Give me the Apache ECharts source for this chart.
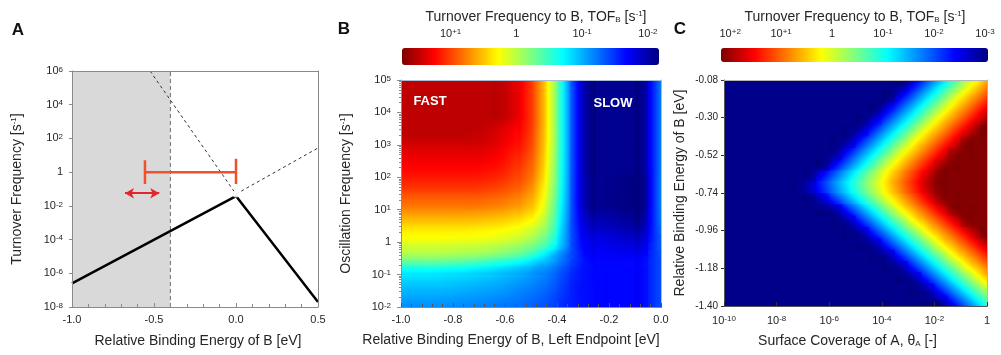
<!DOCTYPE html>
<html>
<head>
<meta charset="utf-8">
<script src="https://cdn.jsdelivr.net/npm/echarts@6/dist/echarts.min.js"></script>
<style>
html, body { margin: 0; padding: 0; background: #fff; }
#main { width: 1001px; height: 355px; }
</style>
</head>
<body>
<div id="main"></div>
<script>
// ---------- Panel A: TOF vs binding energy of B ----------
const aLineX = [-1.0, 0.0, 0.5];
const aLineY = [2.5e-7, 0.038, 2e-8];
const aSteepX = [-0.524, 0.0];
const aSteepY = [1e6, 0.05];
const aFlatX = [0.0, 0.5];
const aFlatY = [0.05, 27];
const aShadeX = [-1.0, -0.4];
const aBarX = [-0.555, 0.0];      // red range bar, drawn at TOF = 1
const aBarY = 1;
const aArrowX = [-0.677, -0.468];
const aArrowY = 0.056;

// ---------- Panel B: log10(TOF) on (left endpoint, log10 oscillation freq) ----------
const bCols = [-0.975,-0.925,-0.875,-0.825,-0.775,-0.725,-0.675,-0.625,-0.575,-0.525,-0.475,-0.425,-0.375,-0.325,-0.275,-0.225,-0.175,-0.125,-0.075,-0.025];
const bRows = [4.875,4.625,4.375,4.125,3.875,3.625,3.375,3.125,2.875,2.625,2.375,2.125,1.875,1.625,1.375,1.125,0.875,0.625,0.375,0.125,-0.125,-0.375,-0.625,-0.875,-1.125,-1.375,-1.625,-1.875];
const bLogTof = [
  [1.5,1.5,1.5,1.5,1.5,1.5,1.5,1.5,1.4,1.2,0.8,0.15,-0.75,-1.6,-2.1,-2.1,-2.1,-2.1,-2.1,-1.5],
  [1.5,1.5,1.5,1.5,1.5,1.5,1.5,1.5,1.4,1.2,0.8,0.15,-0.75,-1.6,-2.1,-2.1,-2.1,-2.1,-2.1,-1.5],
  [1.5,1.5,1.5,1.5,1.5,1.5,1.5,1.5,1.4,1.2,0.8,0.15,-0.75,-1.6,-2.1,-2.1,-2.1,-2.1,-2.1,-1.5],
  [1.5,1.5,1.5,1.5,1.5,1.5,1.5,1.5,1.4,1.2,0.8,0.15,-0.75,-1.6,-2.1,-2.1,-2.1,-2.1,-2.1,-1.5],
  [1.5,1.5,1.5,1.5,1.5,1.5,1.5,1.5,1.4,1.2,0.8,0.15,-0.75,-1.6,-2.1,-2.1,-2.1,-2.1,-2.1,-1.5],
  [1.5,1.5,1.5,1.5,1.5,1.5,1.48,1.43,1.33,1.18,0.8,0.15,-0.75,-1.6,-2.1,-2.1,-2.1,-2.1,-2.1,-1.5],
  [1.5,1.5,1.5,1.5,1.5,1.48,1.45,1.38,1.28,1.15,0.78,0.15,-0.75,-1.6,-2.1,-2.1,-2.1,-2.1,-2.1,-1.5],
  [1.45,1.45,1.45,1.45,1.45,1.45,1.42,1.35,1.25,1.12,0.76,0.14,-0.75,-1.6,-2.1,-2.1,-2.1,-2.1,-2.1,-1.5],
  [1.38,1.38,1.38,1.38,1.38,1.38,1.36,1.3,1.2,1.08,0.74,0.12,-0.75,-1.6,-2.1,-2.1,-2.1,-2.1,-2.1,-1.5],
  [1.32,1.32,1.32,1.32,1.32,1.32,1.3,1.25,1.15,1.03,0.71,0.1,-0.76,-1.6,-2.1,-2.1,-2.1,-2.1,-2.1,-1.5],
  [1.26,1.26,1.26,1.26,1.26,1.26,1.24,1.2,1.1,0.98,0.68,0.08,-0.76,-1.6,-2.1,-2.1,-2.1,-2.1,-2.1,-1.5],
  [1.2,1.2,1.2,1.2,1.2,1.2,1.18,1.14,1.05,0.93,0.64,0.05,-0.77,-1.6,-2.1,-2.1,-2.1,-2.12,-2.12,-1.5],
  [1.12,1.12,1.12,1.12,1.12,1.12,1.1,1.06,0.98,0.87,0.58,0.02,-0.78,-1.6,-2.07,-2.1,-2.12,-2.15,-2.15,-1.5],
  [1.03,1.03,1.03,1.03,1.03,1.03,1.01,0.97,0.9,0.79,0.52,-0.02,-0.8,-1.6,-2.07,-2.1,-2.12,-2.15,-2.15,-1.5],
  [0.9,0.9,0.9,0.9,0.9,0.9,0.88,0.85,0.79,0.69,0.45,-0.07,-0.82,-1.6,-2.07,-2.1,-2.12,-2.15,-2.15,-1.5],
  [0.8,0.8,0.8,0.8,0.8,0.8,0.78,0.75,0.69,0.6,0.38,-0.12,-0.85,-1.6,-2.07,-2.1,-2.12,-2.15,-2.15,-1.5],
  [0.65,0.65,0.65,0.65,0.65,0.64,0.62,0.59,0.54,0.46,0.27,-0.18,-0.88,-1.58,-2.0,-2.03,-2.06,-2.1,-2.1,-1.5],
  [0.5,0.5,0.5,0.5,0.5,0.49,0.47,0.44,0.39,0.31,0.14,-0.25,-0.92,-1.57,-1.93,-1.97,-2.0,-2.05,-2.05,-1.5],
  [0.35,0.35,0.35,0.35,0.35,0.34,0.32,0.29,0.24,0.16,0.0,-0.33,-0.96,-1.55,-1.85,-1.88,-1.92,-1.97,-1.97,-1.5],
  [0.25,0.25,0.25,0.25,0.24,0.23,0.21,0.17,0.11,0.02,-0.15,-0.45,-1.0,-1.53,-1.78,-1.8,-1.83,-1.88,-1.88,-1.5],
  [0.1,0.1,0.1,0.09,0.08,0.06,0.03,-0.01,-0.08,-0.17,-0.33,-0.6,-1.05,-1.52,-1.73,-1.75,-1.77,-1.8,-1.8,-1.48],
  [-0.05,-0.05,-0.05,-0.06,-0.08,-0.11,-0.15,-0.21,-0.29,-0.4,-0.6,-0.88,-1.2,-1.5,-1.7,-1.7,-1.72,-1.73,-1.72,-1.48],
  [-0.35,-0.35,-0.35,-0.37,-0.4,-0.44,-0.5,-0.57,-0.65,-0.75,-0.9,-1.05,-1.28,-1.52,-1.65,-1.67,-1.67,-1.67,-1.67,-1.48],
  [-0.7,-0.7,-0.7,-0.72,-0.74,-0.78,-0.82,-0.87,-0.93,-1.0,-1.1,-1.2,-1.38,-1.56,-1.65,-1.67,-1.67,-1.67,-1.67,-1.48],
  [-0.84,-0.84,-0.84,-0.86,-0.88,-0.9,-0.93,-0.97,-1.02,-1.08,-1.16,-1.26,-1.43,-1.58,-1.65,-1.67,-1.67,-1.67,-1.67,-1.48],
  [-0.94,-0.94,-0.94,-0.95,-0.97,-0.99,-1.02,-1.05,-1.1,-1.15,-1.22,-1.31,-1.46,-1.6,-1.65,-1.67,-1.67,-1.67,-1.67,-1.48],
  [-1.02,-1.02,-1.02,-1.03,-1.05,-1.07,-1.09,-1.12,-1.16,-1.21,-1.27,-1.36,-1.49,-1.6,-1.65,-1.67,-1.67,-1.67,-1.67,-1.48],
  [-1.1,-1.1,-1.1,-1.11,-1.12,-1.14,-1.16,-1.19,-1.22,-1.26,-1.32,-1.4,-1.52,-1.6,-1.65,-1.67,-1.67,-1.67,-1.67,-1.48]
];
const bRange = [-2.17, 1.74];          // log10 TOF at colorbar ends
const bBarTicks = [1, 0, -1, -2];

// ---------- Panel C: log10(TOF) on (log10 coverage of A, binding energy of B) ----------
const cCols = [-9.75,-9.25,-8.75,-8.25,-7.75,-7.25,-6.75,-6.25,-5.75,-5.25,-4.75,-4.25,-3.75,-3.25,-2.75,-2.25,-1.75,-1.25,-0.75,-0.25];
const cRows = [-0.113,-0.179,-0.245,-0.311,-0.377,-0.443,-0.509,-0.575,-0.641,-0.707,-0.773,-0.839,-0.905,-0.971,-1.037,-1.103,-1.169,-1.235,-1.301,-1.367];
const cLogTof = [
  [-3,-3,-3,-3,-3,-3,-3,-3,-3,-3,-3,-3,-3,-2.93,-2.34,-1.74,-1.15,-0.55,0.04,0.55],
  [-3,-3,-3,-3,-3,-3,-3,-3,-3,-3,-3,-3,-3,-2.42,-1.83,-1.23,-0.64,-0.04,0.49,0.96],
  [-3,-3,-3,-3,-3,-3,-3,-3,-3,-3,-3,-3,-2.51,-1.91,-1.32,-0.72,-0.13,0.42,0.89,1.37],
  [-3,-3,-3,-3,-3,-3,-3,-3,-3,-3,-3,-2.6,-2.0,-1.41,-0.82,-0.22,0.34,0.82,1.29,1.77],
  [-3,-3,-3,-3,-3,-3,-3,-3,-3,-3,-2.68,-2.09,-1.49,-0.9,-0.3,0.28,0.75,1.23,1.7,2.15],
  [-3,-3,-3,-3,-3,-3,-3,-3,-3,-2.77,-2.17,-1.58,-0.98,-0.39,0.21,0.69,1.16,1.64,2.11,2.15],
  [-3,-3,-3,-3,-3,-3,-3,-3,-2.86,-2.27,-1.67,-1.08,-0.48,0.11,0.61,1.08,1.56,2.03,2.15,2.15],
  [-3,-3,-3,-3,-3,-3,-3,-2.98,-2.39,-1.79,-1.2,-0.6,-0.01,0.51,0.99,1.46,1.94,2.15,2.15,2.15],
  [-3,-3,-3,-3,-3,-3,-2.94,-2.39,-1.84,-1.29,-0.74,-0.19,0.34,0.82,1.29,1.77,2.15,2.15,2.15,2.15],
  [-3,-3,-3,-3,-3,-3,-2.73,-2.21,-1.68,-1.16,-0.63,-0.11,0.4,0.88,1.35,1.83,2.15,2.15,2.15,2.15],
  [-3,-3,-3,-3,-3,-3,-3,-2.63,-2.08,-1.53,-0.98,-0.43,0.12,0.61,1.08,1.56,2.03,2.15,2.15,2.15],
  [-3,-3,-3,-3,-3,-3,-3,-3,-2.79,-2.2,-1.6,-1.01,-0.41,0.18,0.67,1.14,1.62,2.09,2.15,2.15],
  [-3,-3,-3,-3,-3,-3,-3,-3,-3,-2.78,-2.18,-1.59,-0.99,-0.4,0.2,0.68,1.15,1.63,2.1,2.15],
  [-3,-3,-3,-3,-3,-3,-3,-3,-3,-3,-2.78,-2.18,-1.59,-0.99,-0.4,0.2,0.68,1.15,1.63,2.1],
  [-3,-3,-3,-3,-3,-3,-3,-3,-3,-3,-3,-2.77,-2.17,-1.58,-0.98,-0.39,0.21,0.69,1.16,1.64],
  [-3,-3,-3,-3,-3,-3,-3,-3,-3,-3,-3,-3,-2.77,-2.17,-1.58,-0.98,-0.39,0.21,0.69,1.16],
  [-3,-3,-3,-3,-3,-3,-3,-3,-3,-3,-3,-3,-3,-2.77,-2.17,-1.58,-0.98,-0.39,0.21,0.69],
  [-3,-3,-3,-3,-3,-3,-3,-3,-3,-3,-3,-3,-3,-3,-2.77,-2.17,-1.58,-0.98,-0.39,0.21],
  [-3,-3,-3,-3,-3,-3,-3,-3,-3,-3,-3,-3,-3,-3,-3,-2.77,-2.17,-1.58,-0.98,-0.39],
  [-3,-3,-3,-3,-3,-3,-3,-3,-3,-3,-3,-3,-3,-3,-3,-3,-2.77,-2.17,-1.58,-0.98]
];
const cRange = [-3.06, 2.18];
const cBarTicks = [2, 1, 0, -1, -2, -3];
const cEnergyTicks = [-1.40, -1.18, -0.96, -0.74, -0.52, -0.30, -0.08];

// ---------- styling ----------
const FONT = "'Liberation Sans', Arial, Helvetica, sans-serif";
const TXT = '#262626';
const AXIS = '#8a8a8a';
const JET = ['#00007f','#0000ff','#007fff','#00ffff','#7fff7f','#ffff00','#ff7f00','#ff0000','#7f0000'];
const JET_RGB = JET.map(h => [1, 3, 5].map(k => parseInt(h.slice(k, k + 2), 16)));
const NO_SPLIT = { show: false, lineStyle: { opacity: 0 } };
const rich = {
  sup: { fontSize: 8, fontFamily: FONT, color: TXT, verticalAlign: 'top', lineHeight: 9 },
  sub: { fontSize: 8, fontFamily: FONT, color: TXT, verticalAlign: 'bottom', lineHeight: 9 }
};

// log-decade minor tick positions for panel B's frequency axis
const bMinorTicks = [];
for (let n = -2; n < 5; n++) for (let k = 2; k < 10; k++) bMinorTicks.push(n + Math.log10(k));

function pow10(v, plus) {
  const n = Math.round(v);
  if (n === 0) return '1';
  return '10{sup|' + (n > 0 && plus ? '+' : '') + n + '}';
}
function labelStyle(size, margin, formatter) {
  return { fontSize: size, color: TXT, fontFamily: FONT, margin: margin, formatter: formatter, rich: rich };
}
function nameStyle(shiftLeft) {
  return { fontSize: 14, color: TXT, fontFamily: FONT, rich: rich, padding: [0, 2 * (shiftLeft || 0), 0, 0] };
}
function toPairs(xs, ys) {
  return xs.map((x, i) => [x, Math.log10(ys[i])]);
}
function heatData(table) {
  const out = [];
  table.forEach((row, i) => row.forEach((v, j) => out.push([j, i, v])));
  return out;
}

// jet colour for a log10 value within a colorbar range
function jetColor(v, range) {
  let t = (v - range[0]) / (range[1] - range[0]);
  t = Math.min(1, Math.max(0, t)) * (JET_RGB.length - 1);
  const k = Math.min(Math.floor(t), JET_RGB.length - 2);
  const f = t - k;
  const a = JET_RGB[k], b = JET_RGB[k + 1];
  return 'rgb(' + [0, 1, 2].map(m => Math.round(a[m] + (b[m] - a[m]) * f)).join(',') + ')';
}

// each cell painted with a gradient along the local slope (like "shading interp")
function smoothCells(table, range) {
  const nr = table.length, nc = table[0].length;
  return function (params, api) {
    const j = api.value(0), i = api.value(1), v = api.value(2);
    const c = api.coord([j, i]);
    const s = api.size([1, 1]);
    const w = s[0], h = s[1];
    const jl = Math.max(j - 1, 0), jr = Math.min(j + 1, nc - 1);
    const iu = Math.max(i - 1, 0), id = Math.min(i + 1, nr - 1);
    const gx = (table[i][jr] - table[i][jl]) / (jr - jl) / w;
    const gy = (table[id][j] - table[iu][j]) / (id - iu) / h;
    const g = Math.hypot(gx, gy);
    let fill = jetColor(v, range);
    if (g > 1e-6) {
      const ux = gx / g, uy = gy / g;
      const t = 0.5 * (w * Math.abs(ux) + h * Math.abs(uy));
      const stops = [];
      for (let k = 0; k <= 6; k++) {
        const f = k / 6;
        stops.push({ offset: f, color: jetColor(v + g * t * (2 * f - 1), range) });
      }
      fill = new echarts.graphic.LinearGradient(c[0] - ux * t, c[1] - uy * t, c[0] + ux * t, c[1] + uy * t, stops, true);
    }
    return {
      type: 'rect',
      shape: { x: c[0] - w / 2, y: c[1] - h / 2, width: w + 1, height: h + 1 },
      style: { fill: fill, stroke: null }
    };
  };
}

const chart = echarts.init(document.getElementById('main'));
const capHalf = 0.7; // decades, half-height of range-bar end caps

const option = {
  animation: false,
  grid: [
    { left: 72, top: 71, width: 246, height: 236 },          // 0 A
    { left: 401, top: 80, width: 260, height: 227 },         // 1 B cells
    { left: 401, top: 80, width: 260, height: 227 },         // 2 B axes
    { left: 724, top: 80, width: 263, height: 226 },         // 3 C cells
    { left: 724, top: 80, width: 263, height: 226 },         // 4 C axes
    { left: 402, top: 48, width: 257, height: 17 },          // 5 B colorbar scale
    { left: 721, top: 48, width: 267, height: 14 }           // 6 C colorbar scale
  ],
  xAxis: [
    { gridIndex: 0, type: 'value', min: -1, max: 0.5, interval: 0.5, z: 5,
      axisLine: { show: true, onZero: false, lineStyle: { color: AXIS } },
      axisTick: { show: true, inside: true, length: 4, lineStyle: { color: AXIS } },
      minorTick: { show: true, splitNumber: 5, length: 3, lineStyle: { color: AXIS } },
      splitLine: NO_SPLIT, minorSplitLine: NO_SPLIT,
      axisLabel: labelStyle(11, 7, v => v.toFixed(1)),
      name: 'Relative Binding Energy of B [eV]', nameLocation: 'middle', nameGap: 27, nameTextStyle: nameStyle(-3) },
    { gridIndex: 1, type: 'category', data: bCols.map(String), show: false },
    { gridIndex: 2, type: 'value', min: -1, max: 0, interval: 0.2, z: 5,
      axisLine: { show: true, onZero: false, lineStyle: { color: AXIS } },
      axisTick: { show: true, inside: true, length: 4, lineStyle: { color: '#555' } },
      minorTick: { show: true, splitNumber: 5, length: 3, lineStyle: { color: '#555' } },
      splitLine: NO_SPLIT, minorSplitLine: NO_SPLIT,
      axisLabel: labelStyle(11, 7, v => v.toFixed(1)),
      name: 'Relative Binding Energy of B, Left Endpoint [eV]', nameLocation: 'middle', nameGap: 26, nameTextStyle: nameStyle(20) },
    { gridIndex: 3, type: 'category', data: cCols.map(String), show: false },
    { gridIndex: 4, type: 'value', min: -10, max: 0, interval: 2, z: 5,
      axisLine: { show: true, onZero: false, lineStyle: { color: '#555' } },
      axisTick: { show: true, inside: true, length: 4, lineStyle: { color: '#333' } },
      splitLine: NO_SPLIT, minorSplitLine: NO_SPLIT,
      axisLabel: labelStyle(11, 9, v => pow10(v)),
      name: 'Surface Coverage of A, θ{sub|A} [-]', nameLocation: 'middle', nameGap: 28, nameTextStyle: nameStyle(8) },
    { gridIndex: 5, type: 'value', min: bRange[0], max: bRange[1], inverse: true, position: 'top',
      axisLine: { show: false, onZero: false }, axisTick: { show: false }, splitLine: NO_SPLIT,
      axisLabel: Object.assign(labelStyle(11, 9, v => pow10(v, true)), { customValues: bBarTicks }) },
    { gridIndex: 6, type: 'value', min: cRange[0], max: cRange[1], inverse: true, position: 'top',
      axisLine: { show: false, onZero: false }, axisTick: { show: false }, splitLine: NO_SPLIT,
      axisLabel: Object.assign(labelStyle(11, 9, v => pow10(v, true)), { customValues: cBarTicks }) },
    { gridIndex: 0, type: 'value', min: -1, max: 0.5, position: 'top', z: 5,
      axisLine: { show: true, onZero: false, lineStyle: { color: AXIS } }, axisTick: { show: false },
      axisLabel: { show: false }, splitLine: NO_SPLIT },
    { gridIndex: 2, type: 'value', min: -1, max: 0, position: 'top', z: 5,
      axisLine: { show: true, onZero: false, lineStyle: { color: '#a9bcd6' } }, axisTick: { show: false },
      axisLabel: { show: false }, splitLine: NO_SPLIT },
    { gridIndex: 4, type: 'value', min: -10, max: 0, position: 'top', z: 5,
      axisLine: { show: true, onZero: false, lineStyle: { color: '#b5b5b5' } }, axisTick: { show: false },
      axisLabel: { show: false }, splitLine: NO_SPLIT }
  ],
  yAxis: [
    { gridIndex: 0, type: 'value', min: -8, max: 6, interval: 2, z: 5,
      axisLine: { show: true, onZero: false, lineStyle: { color: AXIS } },
      axisTick: { show: true, length: 3, lineStyle: { color: AXIS } },
      splitLine: NO_SPLIT,
      axisLabel: labelStyle(11, 9, v => pow10(v)),
      name: 'Turnover Frequency [s{sup|-1}]', nameLocation: 'middle', nameGap: 48, nameTextStyle: nameStyle() },
    { gridIndex: 1, type: 'category', data: bRows.map(String), inverse: true, show: false },
    { gridIndex: 2, type: 'value', min: -2, max: 5, interval: 1, z: 5,
      axisLine: { show: true, onZero: false, lineStyle: { color: AXIS } },
      axisTick: { show: true, length: 4, lineStyle: { color: AXIS } },
      splitLine: NO_SPLIT,
      axisLabel: labelStyle(11, 10, v => pow10(v)),
      name: 'Oscillation Frequency [s{sup|-1}]', nameLocation: 'middle', nameGap: 48, nameTextStyle: nameStyle() },
    { gridIndex: 3, type: 'category', data: cRows.map(String), inverse: true, show: false },
    { gridIndex: 4, type: 'value', min: -1.40, max: -0.08, z: 5,
      axisLine: { show: true, onZero: false, lineStyle: { color: '#555' } },
      axisTick: { show: true, length: 3, lineStyle: { color: '#333' }, customValues: cEnergyTicks },
      splitLine: NO_SPLIT,
      axisLabel: Object.assign(labelStyle(10, 6, v => v.toFixed(2)), { customValues: cEnergyTicks }),
      name: 'Relative Binding Energy of B [eV]', nameLocation: 'middle', nameGap: 37, nameTextStyle: nameStyle() },
    { gridIndex: 5, type: 'value', show: false },
    { gridIndex: 6, type: 'value', show: false },
    { gridIndex: 0, type: 'value', min: -8, max: 6, position: 'right', z: 5,
      axisLine: { show: true, onZero: false, lineStyle: { color: AXIS } }, axisTick: { show: false },
      axisLabel: { show: false }, splitLine: NO_SPLIT },
    { gridIndex: 2, type: 'value', min: -2, max: 5, position: 'right', z: 5,
      axisLine: { show: true, onZero: false, lineStyle: { color: '#a9bcd6' } }, axisTick: { show: false },
      axisLabel: { show: false }, splitLine: NO_SPLIT },
    { gridIndex: 4, type: 'value', min: -1.40, max: -0.08, position: 'right', z: 5,
      axisLine: { show: true, onZero: false, lineStyle: { color: '#b5b5b5' } }, axisTick: { show: false },
      axisLabel: { show: false }, splitLine: NO_SPLIT },
    { gridIndex: 2, type: 'value', min: -2, max: 5, position: 'left', offset: 0, z: 5,
      axisLine: { show: false, onZero: false },
      axisTick: { show: true, length: 2, lineStyle: { color: AXIS }, customValues: bMinorTicks },
      axisLabel: { show: false, customValues: bMinorTicks }, splitLine: NO_SPLIT }
  ],
  visualMap: [
    { type: 'continuous', seriesIndex: 9, dimension: 2, min: bRange[0], max: bRange[1], orient: 'horizontal', inverse: true,
      left: 402, top: 48, itemWidth: 17, itemHeight: 257, padding: 0, calculable: false, text: null,
      hoverLink: false, inRange: { color: JET } },
    { type: 'continuous', seriesIndex: 10, dimension: 2, min: cRange[0], max: cRange[1], orient: 'horizontal', inverse: true,
      left: 721, top: 48, itemWidth: 14, itemHeight: 267, padding: 0, calculable: false, text: null,
      hoverLink: false, inRange: { color: JET } }
  ],
  series: [
    { type: 'line', xAxisIndex: 0, yAxisIndex: 0, silent: true, symbol: 'none', z: 1,
      data: [[aShadeX[0], 6], [aShadeX[1], 6]],
      lineStyle: { width: 0 }, areaStyle: { color: '#d9d9d9', opacity: 1, origin: 'start' } },
    { type: 'line', xAxisIndex: 0, yAxisIndex: 0, silent: true, symbol: 'none', z: 2,
      data: [[aShadeX[1], -8], [aShadeX[1], 6]],
      lineStyle: { color: '#707070', width: 1, type: [4, 3] } },
    { type: 'line', xAxisIndex: 0, yAxisIndex: 0, silent: true, symbol: 'none', z: 2,
      data: toPairs(aSteepX, aSteepY),
      lineStyle: { color: '#333', width: 1, type: [3, 3] } },
    { type: 'line', xAxisIndex: 0, yAxisIndex: 0, silent: true, symbol: 'none', z: 2,
      data: toPairs(aFlatX, aFlatY),
      lineStyle: { color: '#333', width: 1, type: [3, 3] } },
    { type: 'line', xAxisIndex: 0, yAxisIndex: 0, silent: true, symbol: 'none', z: 3,
      data: toPairs(aLineX, aLineY),
      lineStyle: { color: '#000', width: 2.5 } },
    { type: 'scatter', xAxisIndex: 0, yAxisIndex: 0, silent: true, z: 4,
      data: [[aFlatX[0], Math.log10(aFlatY[0])]], symbol: 'emptyCircle', symbolSize: 5,
      itemStyle: { color: '#fff', borderColor: '#555', borderWidth: 1 } },
    { type: 'line', xAxisIndex: 0, yAxisIndex: 0, silent: true, symbol: 'none', z: 4,
      data: aBarX.map(x => [x, Math.log10(aBarY)]),
      lineStyle: { color: '#f0502a', width: 2.5 },
      markLine: { silent: true, symbol: ['arrow', 'arrow'], symbolSize: [8, 9],
        label: { show: false }, lineStyle: { color: '#e3262b', width: 2, type: 'solid' },
        data: [[{ coord: [aArrowX[0], Math.log10(aArrowY)] }, { coord: [aArrowX[1], Math.log10(aArrowY)] }]] } },
    { type: 'line', xAxisIndex: 0, yAxisIndex: 0, silent: true, symbol: 'none', z: 4,
      data: [[aBarX[0], Math.log10(aBarY) - capHalf], [aBarX[0], Math.log10(aBarY) + capHalf]],
      lineStyle: { color: '#f0502a', width: 2.5 } },
    { type: 'line', xAxisIndex: 0, yAxisIndex: 0, silent: true, symbol: 'none', z: 4,
      data: [[aBarX[1], Math.log10(aBarY) - capHalf], [aBarX[1], Math.log10(aBarY) + capHalf + 0.1]],
      lineStyle: { color: '#f0502a', width: 2.5 } },
    { type: 'custom', xAxisIndex: 1, yAxisIndex: 1, silent: true, data: heatData(bLogTof),
      renderItem: smoothCells(bLogTof, bRange), encode: { x: 0, y: 1 } },
    { type: 'custom', xAxisIndex: 3, yAxisIndex: 3, silent: true, data: heatData(cLogTof),
      renderItem: smoothCells(cLogTof, cRange), encode: { x: 0, y: 1 } }
  ],
  graphic: [
    { type: 'text', x: 18, y: 30, silent: true,
      style: { text: 'A', fontSize: 17, fontWeight: 'bold', fontFamily: FONT, fill: '#111', align: 'center', verticalAlign: 'middle' } },
    { type: 'text', x: 344, y: 29, silent: true,
      style: { text: 'B', fontSize: 17, fontWeight: 'bold', fontFamily: FONT, fill: '#111', align: 'center', verticalAlign: 'middle' } },
    { type: 'text', x: 680, y: 29, silent: true,
      style: { text: 'C', fontSize: 17, fontWeight: 'bold', fontFamily: FONT, fill: '#111', align: 'center', verticalAlign: 'middle' } },
    { type: 'text', x: 536, y: 17, silent: true,
      style: { text: 'Turnover Frequency to B, TOF{sub|B} [s{sup|-1}]', fontSize: 14, fontFamily: FONT, fill: TXT,
        align: 'center', verticalAlign: 'middle', rich: rich } },
    { type: 'text', x: 855, y: 17, silent: true,
      style: { text: 'Turnover Frequency to B, TOF{sub|B} [s{sup|-1}]', fontSize: 14, fontFamily: FONT, fill: TXT,
        align: 'center', verticalAlign: 'middle', rich: rich } },
    { type: 'text', x: 430, y: 101, silent: true, z: 100,
      style: { text: 'FAST', fontSize: 13, fontWeight: 'bold', fontFamily: FONT, fill: '#fff', align: 'center', verticalAlign: 'middle' } },
    { type: 'text', x: 613, y: 103, silent: true, z: 100,
      style: { text: 'SLOW', fontSize: 13, fontWeight: 'bold', fontFamily: FONT, fill: '#fff', align: 'center', verticalAlign: 'middle' } }
  ]
};

chart.setOption(option);
</script>
</body>
</html>
